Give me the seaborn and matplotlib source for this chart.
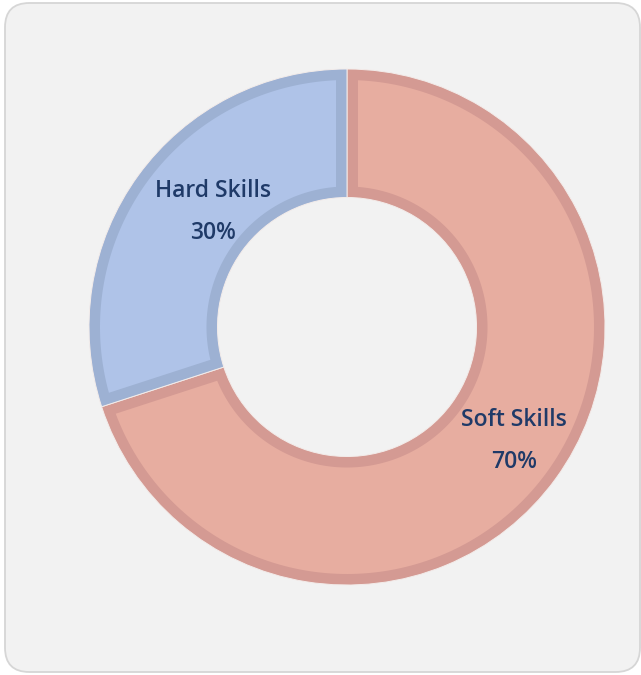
import numpy as np
import matplotlib
matplotlib.use("Agg")
import matplotlib.pyplot as plt
from matplotlib.patches import FancyBboxPatch
import seaborn as sns

categories = ["Soft Skills", "Hard Skills"]
values = [70, 30]
fill_colors = ["#E7ADA0", "#AFC3E8"]
edge_colors = ["#D49A93", "#9DB1D3"]
label_pos = [(0.647, -0.442), (-0.519, 0.446)]  # label anchors, in units of outer radius

sns.set_theme(style="white")
plt.rcParams["font.family"] = ["Open Sans", "DejaVu Sans"]

W, H = 641, 675
fig = plt.figure(figsize=(W / 100, H / 100), dpi=100)
fig.patch.set_facecolor("white")

card = FancyBboxPatch((5 / W, 3 / H), 635 / W, 669 / H,
                      boxstyle="round,pad=0,rounding_size=0.038",
                      transform=fig.transFigure, facecolor="#F2F2F2",
                      edgecolor="#D6D6D6", linewidth=1.3, mutation_aspect=W / H,
                      zorder=-5)
fig.patches.append(card)

R = 258.0
cx, cy = 347.0, 327.0
ring_w = 0.498
band = 11.0 / R

ax = fig.add_axes([0, 0, 1, 1])
ax.set_zorder(2)

# base ring in edge colours (forms the darker border band)
wedges, _ = ax.pie(values, colors=edge_colors, startangle=90, counterclock=False,
                   radius=1.0, wedgeprops=dict(width=ring_w, linewidth=0.7,
                                               edgecolor="#F3ECEA"))

# inset fill of every slice (border band of constant width)
r_out = 1.0 - band
r_in = 1.0 - ring_w + band
total = sum(values)
ang = 90.0
for v, fc in zip(values, fill_colors):
    a1 = ang
    a2 = ang - 360.0 * v / total
    do = np.degrees(np.arcsin(band / r_out))
    di = np.degrees(np.arcsin(band / r_in))
    t_out = np.radians(np.linspace(a1 - do, a2 + do, 200))
    t_in = np.radians(np.linspace(a2 + di, a1 - di, 200))
    xs = np.concatenate([r_out * np.cos(t_out), r_in * np.cos(t_in)])
    ys = np.concatenate([r_out * np.sin(t_out), r_in * np.sin(t_in)])
    ax.fill(xs, ys, color=fc, lw=0, zorder=3)
    ang = a2

for cat, v, (lx, ly) in zip(categories, values, label_pos):
    ax.text(lx, ly + 0.082, cat, ha="center", va="center", fontsize=16.5,
            fontweight="semibold", color="#1F3A68", zorder=5)
    ax.text(lx, ly - 0.082, f"{v}%", ha="center", va="center", fontsize=16.5,
            fontweight="semibold", color="#1F3A68", zorder=5)

ax.set_aspect("equal", adjustable="datalim")
ax.set_xlim(-cx / R, (W - cx) / R)
ax.set_ylim(-(H - cy) / R, cy / R)
ax.axis("off")
ax.patch.set_alpha(0)

fig.savefig("out.png", dpi=100)
